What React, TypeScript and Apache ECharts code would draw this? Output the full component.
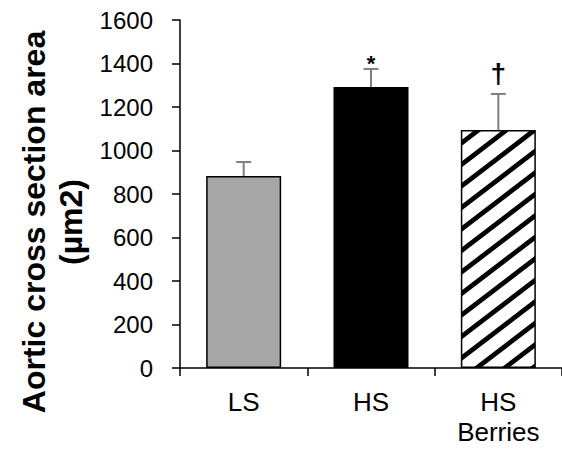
import React, { useEffect, useRef } from "react";
import * as echarts from "echarts";

const categories = ["LS", "HS", "HS\nBerries"];
const means = [883, 1292, 1094];
const errors = [64, 83, 166];
const marks = ["", "*", "\u2020"];
const hatched = [false, false, true];
const yMin = 0;
const yMax = 1600;
const yStep = 200;
const yTitle = "Aortic cross section area\n(\u00b5m2)";

const FONT = '"Liberation Sans", Arial, sans-serif';
const BAR_W = 75;
const HATCH_DX = 28; // horizontal period of stripes
const HATCH_DY = 21.5; // vertical period of stripes
const HATCH_T = 6; // vertical thickness of a stripe

type Pt = [number, number];

function clipPoly(poly: Pt[], x0: number, x1: number, y0: number, y1: number): Pt[] {
  const clipEdge = (pts: Pt[], inside: (p: Pt) => boolean, inter: (a: Pt, b: Pt) => Pt) => {
    const out: Pt[] = [];
    for (let i = 0; i < pts.length; i++) {
      const cur = pts[i];
      const prev = pts[(i + pts.length - 1) % pts.length];
      const cin = inside(cur);
      const pin = inside(prev);
      if (cin) {
        if (!pin) out.push(inter(prev, cur));
        out.push(cur);
      } else if (pin) {
        out.push(inter(prev, cur));
      }
    }
    return out;
  };
  const ix = (a: Pt, b: Pt, x: number): Pt => {
    const t = (x - a[0]) / (b[0] - a[0]);
    return [x, a[1] + t * (b[1] - a[1])];
  };
  const iy = (a: Pt, b: Pt, y: number): Pt => {
    const t = (y - a[1]) / (b[1] - a[1]);
    return [a[0] + t * (b[0] - a[0]), y];
  };
  let p = poly;
  p = clipEdge(p, (q) => q[0] >= x0, (a, b) => ix(a, b, x0));
  if (!p.length) return p;
  p = clipEdge(p, (q) => q[0] <= x1, (a, b) => ix(a, b, x1));
  if (!p.length) return p;
  p = clipEdge(p, (q) => q[1] >= y0, (a, b) => iy(a, b, y0));
  if (!p.length) return p;
  p = clipEdge(p, (q) => q[1] <= y1, (a, b) => iy(a, b, y1));
  return p;
}

function hatchPolys(x0: number, x1: number, y0: number, y1: number): Pt[][] {
  const k = HATCH_DY / HATCH_DX;
  const res: Pt[][] = [];
  const xa = x0 - 5;
  const xb = x1 + 5;
  const cStart = Math.floor((y0 + k * x0 - HATCH_T) / HATCH_DY) * HATCH_DY;
  const cEnd = y1 + k * x1 + HATCH_DY;
  for (let c = cStart; c <= cEnd; c += HATCH_DY) {
    const band: Pt[] = [
      [xa, c - k * xa],
      [xb, c - k * xb],
      [xb, c + HATCH_T - k * xb],
      [xa, c + HATCH_T - k * xa],
    ];
    const cl = clipPoly(band, x0, x1, y0, y1);
    if (cl.length >= 3) res.push(cl);
  }
  return res;
}

export default function App() {
  const ref = useRef<HTMLDivElement>(null);
  useEffect(() => {
    if (!ref.current) return;
    const chart = echarts.init(ref.current, undefined, { renderer: "svg" });
    const fills: any[] = [
      { color: "#a6a6a6", borderColor: "#000", borderWidth: 1.5 },
      { color: "#000", borderColor: "#000", borderWidth: 1.5 },
      { color: "#fff", borderColor: "#000", borderWidth: 1.5 },
    ];
    chart.setOption({
      animation: false,
      backgroundColor: "#fff",
      grid: { left: 180, top: 20, bottom: 89, right: -10, containLabel: false },
      xAxis: {
        type: "category",
        data: categories,
        axisLine: { lineStyle: { color: "#000", width: 1.5 } },
        axisTick: { show: true, length: 8, alignWithLabel: false, lineStyle: { color: "#000", width: 1.5 } },
        axisLabel: {
          color: "#000",
          fontFamily: FONT,
          fontSize: 26,
          lineHeight: 30,
          margin: 19,
          interval: 0,
        },
      },
      yAxis: {
        type: "value",
        min: yMin,
        max: yMax,
        interval: yStep,
        splitLine: { show: false },
        axisLine: { show: true, lineStyle: { color: "#000", width: 1.5 } },
        axisTick: { show: true, length: 8, lineStyle: { color: "#000", width: 1.5 } },
        axisLabel: {
          color: "#000",
          fontFamily: FONT,
          fontSize: 24,
          margin: 27,
          formatter: (v: number) => String(v),
        },
      },
      graphic: [
        {
          type: "text",
          x: 52,
          y: 222,
          rotation: Math.PI / 2,
          style: {
            text: yTitle,
            font: `bold 32px ${FONT}`,
            align: "center",
            verticalAlign: "middle",
            textAlign: "center",
            textVerticalAlign: "middle",
            lineHeight: 37,
            fill: "#000",
          },
        },
      ],
      series: [
        {
          type: "bar",
          barWidth: BAR_W,
          data: means.map((v, i) => ({ value: v, itemStyle: fills[i] })),
        },
        {
          type: "custom",
          data: means.map((m, i) => [i, m, errors[i]]),
          z: 5,
          renderItem: (params: any, api: any) => {
            const i = api.value(0);
            const m = api.value(1);
            const e = api.value(2);
            const base = api.coord([i, m]);
            const top = api.coord([i, m + e]);
            const zero = api.coord([i, 0]);
            const x = top[0];
            const children: any[] = [];
            if (hatched[i]) {
              const inset = 0.75;
              const polys = hatchPolys(
                x - BAR_W / 2 + inset,
                x + BAR_W / 2 - inset,
                base[1] + inset,
                zero[1] - inset
              );
              polys.forEach((pts) =>
                children.push({ type: "polygon", shape: { points: pts }, style: { fill: "#000" } })
              );
            }
            const stroke = { stroke: "#7f7f7f", lineWidth: 2 };
            children.push(
              { type: "line", shape: { x1: x, y1: base[1], x2: x, y2: top[1] }, style: stroke },
              { type: "line", shape: { x1: x - 7.5, y1: top[1], x2: x + 7.5, y2: top[1] }, style: stroke }
            );
            const mk = marks[i];
            if (mk) {
              const isStar = mk === "*";
              children.push({
                type: "text",
                style: {
                  text: mk,
                  x: x,
                  y: isStar ? top[1] - 5 : top[1] - 20,
                  font: `bold ${isStar ? 22 : 28}px ${FONT}`,
                  align: "center",
                  verticalAlign: "middle",
                  textAlign: "center",
                  textVerticalAlign: "middle",
                  fill: "#000",
                },
              });
            }
            return { type: "group", children };
          },
        },
      ],
    });
    return () => chart.dispose();
  }, []);
  return (
    <div
      ref={ref}
      style={{ position: "fixed", left: 0, top: 0, width: 562, height: 457 }}
    />
  );
}
